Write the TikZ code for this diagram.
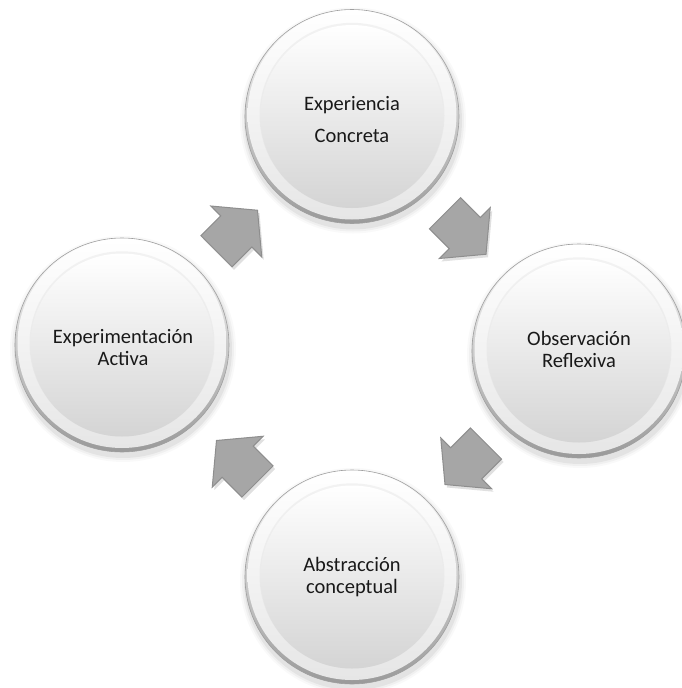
\documentclass[tikz,border=0pt]{standalone}
\usepackage{fontspec}
\setmainfont{Carlito}
\usetikzlibrary{calc}
\definecolor{arrowfill}{HTML}{A6A6A6}
\definecolor{arrowedge}{HTML}{8E8E8E}
\definecolor{rimedge}{HTML}{9A9A9A}
\definecolor{innerbot}{HTML}{D4D4D4}
\definecolor{rimbot}{HTML}{E6E6E6}
\tikzset{
  lbl/.style={align=center, text=black!90, font=\fontsize{20.5}{22}\selectfont, inner sep=0pt},
  arrowbody/.style={fill=arrowfill, draw=arrowedge, line width=1pt, line join=miter},
}
\newcommand{\bigdisk}[1]{%
  \foreach \r/\o in {113/0.025,111/0.035,109/0.05}{\fill[black,opacity=\o] ($(#1)+(1,4)$) circle (\r pt);}
  \shade[top color=white, bottom color=rimedge] (#1) circle (107pt);
  \shade[top color=white, bottom color=rimbot] ($(#1)+(0,-1.5)$) circle (104.5pt);
  \fill[gray!30, opacity=0.3] ($(#1)+(0,-1.2)$) circle (92.5pt);
  \shade[top color=white, bottom color=innerbot] (#1) circle (91.5pt);
  \draw[gray!75, line width=0.6pt] (#1) circle (107pt);
}
\newcommand{\blockarrow}[3]{%
  \begin{scope}[shift={($(#1)!0.5!(#2)+(2,3)$)}, rotate=#3]
    \fill[black, opacity=0.12] (-29,22) -- (-1,22) -- (-1,36) -- (29,0) -- (-1,-36) -- (-1,-22) -- (-29,-22) -- cycle;
  \end{scope}
  \begin{scope}[shift={($(#1)!0.5!(#2)$)}, rotate=#3]
    \path[arrowbody] (-29,22) -- (-1,22) -- (-1,36) -- (29,0) -- (-1,-36) -- (-1,-22) -- (-29,-22) -- cycle;
  \end{scope}
}
\begin{document}
\begin{tikzpicture}[x=1pt, y=-1pt]
  \useasboundingbox (0,0) rectangle (681,688);
  \fill[white] (0,0) rectangle (681,688);
  \coordinate (cTop) at (352,116.5);
  \coordinate (cRight) at (579,351);
  \coordinate (cBottom) at (352,577);
  \coordinate (cLeft) at (122,345);

  \blockarrow{cLeft}{cTop}{45}
  \blockarrow{cTop}{cRight}{-45}
  \blockarrow{cRight}{cBottom}{-135}
  \blockarrow{cBottom}{cLeft}{135}

  \bigdisk{cTop}
  \bigdisk{cRight}
  \bigdisk{cBottom}
  \bigdisk{cLeft}

  \node[lbl] (tTop) at ($(cTop)+(0,3.5)$) {Experiencia\\[10pt]Concreta};
  \node[lbl] (tRight) at ($(cRight)+(0,-2)$) {Observación\\Reflexiva};
  \node[lbl] (tBottom) at ($(cBottom)+(0,0)$) {Abstracción\\conceptual};
  \node[lbl] (tLeft) at ($(cLeft)+(1,3)$) {Experimentación\\Activa};
\end{tikzpicture}
\end{document}
